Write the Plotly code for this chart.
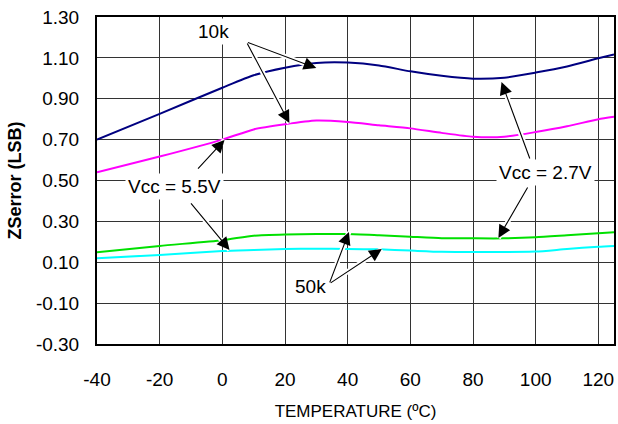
import plotly.graph_objects as go

# Temperature sweep (degC) and zero-scale error (LSB) for each condition
temps = [-40, -20, 0, 10, 20, 30, 40, 50, 60, 70, 80, 90, 100, 110, 120, 125]
err_27v_10k = [0.700, 0.826, 0.954, 1.015, 1.052, 1.075, 1.077, 1.063, 1.034, 1.012,
               0.998, 1.003, 1.028, 1.058, 1.098, 1.117]
err_55v_10k = [0.540, 0.617, 0.700, 0.750, 0.775, 0.793, 0.786, 0.770, 0.755, 0.733,
               0.714, 0.714, 0.737, 0.765, 0.800, 0.812]
err_27v_50k = [0.149, 0.180, 0.208, 0.230, 0.236, 0.238, 0.238, 0.232, 0.225, 0.218,
               0.217, 0.217, 0.222, 0.232, 0.242, 0.247]
err_55v_50k = [0.119, 0.136, 0.155, 0.160, 0.165, 0.166, 0.165, 0.163, 0.157, 0.151,
               0.150, 0.150, 0.152, 0.165, 0.176, 0.180]

x_ticks = [-40, -20, 0, 20, 40, 60, 80, 100, 120]
y_ticks = [-0.30, -0.10, 0.10, 0.30, 0.50, 0.70, 0.90, 1.10, 1.30]

series = [
    (err_27v_10k, "#000080"),
    (err_55v_10k, "#FF00FF"),
    (err_27v_50k, "#00E000"),
    (err_55v_50k, "#00FFFF"),
]

fig = go.Figure()
for vals, col in series:
    fig.add_trace(go.Scatter(x=temps, y=vals, mode="lines",
                             line=dict(color=col, width=2, shape="spline", smoothing=0.6),
                             showlegend=False, hoverinfo="skip"))

FONT = "Liberation Sans, Arial, sans-serif"

# callout labels: (text, x, y)
labels = [
    ("10k", -2.8, 1.231),
    ("Vcc = 5.5V", -15.2, 0.473),
    ("Vcc = 2.7V", 103.1, 0.537),
    ("50k", 28.0, -0.021),
]
# callout arrows: (tail x, tail y, tip x, tip y)
arrows = [
    (7.7, 1.178, 30.0, 1.050),
    (7.7, 1.178, 21.4, 0.781),
    (-8.2, 0.551, 0.7, 0.698),
    (-10.4, 0.395, 2.3, 0.160),
    (98.3, 0.600, 89.1, 0.982),
    (97.7, 0.473, 88.1, 0.219),
    (34.1, -0.006, 40.4, 0.248),
    (34.1, -0.006, 50.9, 0.165),
]

annos = []
# white halo under each arrow
for tx, ty, hx, hy in arrows:
    annos.append(dict(x=hx, y=hy, ax=tx, ay=ty, xref="x", yref="y", axref="x", ayref="y",
                      text="", showarrow=True, arrowhead=0, arrowwidth=5,
                      arrowcolor="white", standoff=0))
for tx, ty, hx, hy in arrows:
    annos.append(dict(x=hx, y=hy, ax=tx, ay=ty, xref="x", yref="y", axref="x", ayref="y",
                      text="", showarrow=True, arrowhead=2, arrowsize=2.3, arrowwidth=1.1,
                      arrowcolor="black", standoff=0))
for txt, lx, ly in labels:
    annos.append(dict(x=lx, y=ly, xref="x", yref="y", text=txt, showarrow=False,
                      font=dict(family=FONT, size=19, color="black"),
                      bgcolor="white", borderpad=2))

fig.update_layout(
    width=618, height=424,
    margin=dict(l=97, r=2, t=17, b=80),
    paper_bgcolor="white", plot_bgcolor="white",
    font=dict(family=FONT, color="black"),
    annotations=annos,
    xaxis=dict(range=[-40, 125], tickvals=x_ticks, ticktext=[str(v) for v in x_ticks],
               showgrid=True, gridcolor="#333333", gridwidth=1,
               showline=True, linecolor="black", linewidth=2, mirror=True,
               ticks="", ticklabelstandoff=17, zeroline=False,
               tickfont=dict(family=FONT, size=19, color="black"),
               title=dict(text="TEMPERATURE (ºC)", standoff=16,
                          font=dict(family=FONT, size=17, color="black"))),
    yaxis=dict(range=[-0.30, 1.30], tickvals=y_ticks,
               ticktext=[f"{v:.2f}" for v in y_ticks],
               showgrid=True, gridcolor="#333333", gridwidth=1,
               showline=True, linecolor="black", linewidth=2, mirror=True,
               ticks="", ticklabelstandoff=12, zeroline=False,
               tickfont=dict(family=FONT, size=19, color="black"),
               title=dict(text="<b>ZSerror (LSB)</b>", standoff=10,
                          font=dict(family=FONT, size=18, color="black"))),
)

fig.write_html("out.html")
